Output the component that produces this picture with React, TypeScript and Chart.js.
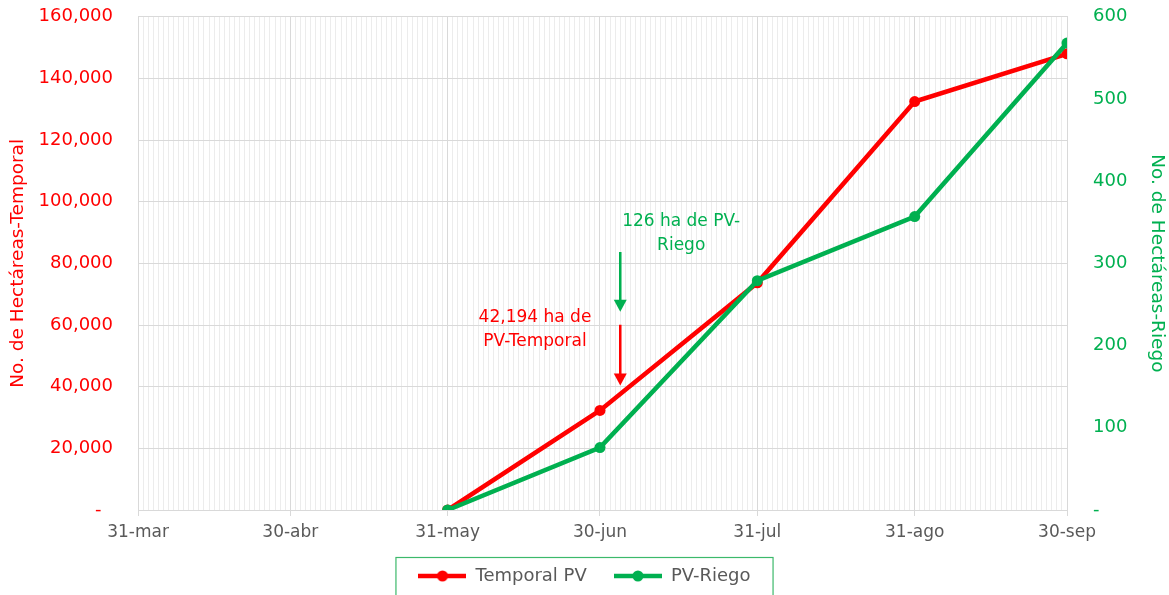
import React, { useEffect, useRef } from 'react';
import { Chart, registerables } from 'chart.js';
Chart.register(...registerables);

// ---- data ----
const xTickLabels = ['31-mar', '30-abr', '31-may', '30-jun', '31-jul', '31-ago', '30-sep'];
const xTickDays = [0, 30, 61, 91, 122, 153, 183];
const pointDates = ['31-may', '30-jun', '31-jul', '31-ago', '30-sep'];
const temporalPV = [0, 32300, 73700, 132500, 148000];
const pvRiego = [0, 76, 279, 357, 568];
const seriesNames = ['Temporal PV', 'PV-Riego'];
const leftTitle = 'No. de Hectáreas-Temporal';
const rightTitle = 'No. de Hectáreas-Riego';
const redNoteLines = ['42,194 ha de', 'PV-Temporal'];
const greenNoteLines = ['126 ha de PV-', 'Riego'];

const RED = '#ff0000';
const GREEN = '#00b050';
const FONT = "'DejaVu Sans', sans-serif";
const SHIFT = 20; // canvas is raised so the plot reaches the page top

const dayOf = (label: string) => xTickDays[xTickLabels.indexOf(label)];

function legendMarker(color: string) {
  const c = document.createElement('canvas');
  c.width = 48;
  c.height = 12;
  const g = c.getContext('2d')!;
  g.strokeStyle = color;
  g.lineWidth = 4.5;
  g.beginPath();
  g.moveTo(0, 6);
  g.lineTo(48, 6);
  g.stroke();
  g.fillStyle = color;
  g.beginPath();
  g.arc(24, 6, 5.5, 0, Math.PI * 2);
  g.fill();
  return c;
}

const annotPlugin = {
  id: 'annot',
  afterDatasetsDraw(chart: any) {
    const { ctx, scales } = chart;
    const x = scales.x;
    const y = scales.y;
    const drawArrow = (day: number, v0: number, v1: number, color: string) => {
      const px = x.getPixelForValue(day);
      const py0 = y.getPixelForValue(v0);
      const py1 = y.getPixelForValue(v1);
      ctx.save();
      ctx.strokeStyle = color;
      ctx.fillStyle = color;
      ctx.lineWidth = 2.5;
      ctx.beginPath();
      ctx.moveTo(px, py0);
      ctx.lineTo(px, py1 - 10);
      ctx.stroke();
      ctx.beginPath();
      ctx.moveTo(px - 6.5, py1 - 12);
      ctx.lineTo(px + 6.5, py1 - 12);
      ctx.lineTo(px, py1);
      ctx.closePath();
      ctx.fill();
      ctx.restore();
    };
    const drawText = (lines: string[], day: number, v: number, color: string) => {
      const px = x.getPixelForValue(day);
      const py = y.getPixelForValue(v);
      ctx.save();
      ctx.fillStyle = color;
      ctx.font = `17px ${FONT}`;
      ctx.textAlign = 'center';
      ctx.textBaseline = 'middle';
      lines.forEach((l, i) => ctx.fillText(l, px, py + i * 24));
      ctx.restore();
    };
    drawArrow(95, 60100, 40400, RED);
    drawArrow(95, 83700, 64300, GREEN);
    drawText(redNoteLines, 78.2, 62400, RED);
    drawText(greenNoteLines, 107, 93700, GREEN);
  },
};

const legendBoxPlugin = {
  id: 'legendBox',
  afterDraw(chart: any) {
    const lg = chart.legend;
    if (!lg || !lg.legendHitBoxes || !lg.legendHitBoxes.length) return;
    const boxes = lg.legendHitBoxes;
    const left = Math.min(...boxes.map((b: any) => b.left)) - 23;
    const right = Math.max(...boxes.map((b: any) => b.left + b.width)) + 22;
    const ctx = chart.ctx;
    ctx.save();
    ctx.strokeStyle = '#3cb96b';
    ctx.lineWidth = 1.2;
    ctx.strokeRect(left + 0.5, lg.top + 0.5, right - left, 80);
    ctx.restore();
  },
};

export default function App() {
  const ref = useRef<HTMLCanvasElement>(null);
  useEffect(() => {
    const canvas = ref.current!;
    const chart = new Chart(canvas, {
      type: 'line',
      data: {
        datasets: [
          {
            label: seriesNames[0],
            data: pointDates.map((d, i) => ({ x: dayOf(d), y: temporalPV[i] })),
            borderColor: RED,
            backgroundColor: RED,
            borderWidth: 4.5,
            pointRadius: 5.5,
            pointBackgroundColor: RED,
            pointBorderWidth: 0,
            yAxisID: 'y',
            order: 1,
          },
          {
            label: seriesNames[1],
            data: pointDates.map((d, i) => ({ x: dayOf(d), y: pvRiego[i] })),
            borderColor: GREEN,
            backgroundColor: GREEN,
            borderWidth: 4.5,
            pointRadius: 5.5,
            pointBackgroundColor: GREEN,
            pointBorderWidth: 0,
            yAxisID: 'y1',
            order: 0,
          },
        ],
      },
      options: {
        responsive: false,
        animation: false,
        devicePixelRatio: 1,
        layout: { padding: 0 },
        elements: { point: { pointStyle: 'circle' } },
        plugins: {
          tooltip: { enabled: false },
          legend: {
            position: 'bottom',
            labels: {
              usePointStyle: true,
              pointStyleWidth: 48,
              boxHeight: 12,
              padding: 10,
              color: '#595959',
              font: { family: FONT, size: 18 },
              generateLabels: (chart: any) =>
                chart.data.datasets.map((ds: any, i: number) => ({
                  text: i === 0 ? ds.label + '   ' : ds.label,
                  fillStyle: ds.borderColor,
                  strokeStyle: ds.borderColor,
                  lineWidth: 0,
                  pointStyle: legendMarker(ds.borderColor),
                  datasetIndex: i,
                  hidden: false,
                  fontColor: '#595959',
                })),
            },
          },
        },
        scales: {
          x: {
            type: 'linear',
            min: 0,
            max: 183,
            afterBuildTicks: (s: any) => {
              const t = [];
              for (let d = 0; d <= 183; d++) t.push({ value: d });
              s.ticks = t;
            },
            afterFit: (s: any) => {
              s.height = 47;
            },
            ticks: {
              autoSkip: false,
              maxRotation: 0,
              minRotation: 0,
              padding: 6,
              color: '#595959',
              font: { family: FONT, size: 17 },
              callback: (v: any) => {
                const i = xTickDays.indexOf(Number(v));
                return i >= 0 ? xTickLabels[i] : '';
              },
            },
            grid: {
              color: (c: any) =>
                c.tick && xTickDays.includes(c.tick.value) ? '#d9d9d9' : '#ececec',
              tickColor: (c: any) =>
                c.tick && xTickDays.includes(c.tick.value) ? '#d9d9d9' : 'rgba(0,0,0,0)',
              tickLength: 6,
              lineWidth: 1,
            },
            border: { color: '#d9d9d9' },
          },
          y: {
            position: 'left',
            min: 0,
            max: 160000,
            afterFit: (s: any) => {
              s.width = 138;
            },
            ticks: {
              stepSize: 20000,
              padding: 25,
              color: RED,
              font: { family: FONT, size: 18 },
              callback: (v: any) => (Number(v) === 0 ? '-  ' : Number(v).toLocaleString('en-US')),
            },
            grid: { color: '#d9d9d9', drawTicks: false },
            border: { color: '#d9d9d9' },
            title: {
              display: true,
              text: leftTitle,
              color: RED,
              font: { family: FONT, size: 18.5 },
              padding: { top: 7, bottom: 0 },
            },
          },
          y1: {
            position: 'right',
            min: 0,
            max: 600,
            afterFit: (s: any) => {
              s.width = 102;
            },
            ticks: {
              stepSize: 100,
              padding: 26,
              color: GREEN,
              font: { family: FONT, size: 18 },
              callback: (v: any) => (Number(v) === 0 ? '-' : String(v)),
            },
            grid: { display: false, drawTicks: false },
            border: { color: '#d9d9d9' },
            title: {
              display: true,
              text: rightTitle,
              color: GREEN,
              font: { family: FONT, size: 18.5 },
              padding: { top: 1, bottom: 0 },
            },
          },
        },
      },
      plugins: [annotPlugin, legendBoxPlugin],
    } as any);
    return () => chart.destroy();
  }, []);
  return (
    <div style={{ position: 'fixed', left: 0, top: 0, width: 1169, height: 595, background: '#fff', overflow: 'hidden' }}>
      <canvas
        ref={ref}
        width={1169}
        height={595 + SHIFT}
        style={{ position: 'absolute', left: 0, top: -SHIFT }}
      />
    </div>
  );
}
